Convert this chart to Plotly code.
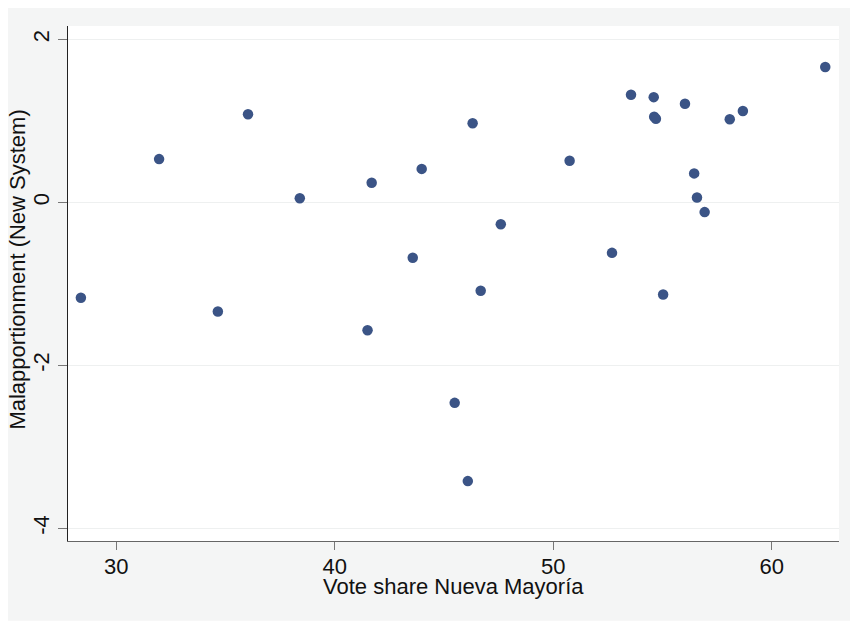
import plotly.graph_objects as go

vote_share = [28.38, 31.96, 34.65, 36.03, 38.4, 41.5, 41.69, 43.57, 43.98, 45.49,
              46.09, 46.31, 46.68, 47.6, 50.75, 52.69, 53.56, 54.6, 54.62, 54.7,
              55.03, 56.03, 56.45, 56.58, 56.93, 58.08, 58.68, 62.45]
malapportionment = [-1.17, 0.53, -1.34, 1.08, 0.05, -1.57, 0.24, -0.68, 0.41, -2.46,
                    -3.42, 0.97, -1.085, -0.27, 0.51, -0.62, 1.32, 1.29, 1.05, 1.025,
                    -1.13, 1.21, 0.355, 0.06, -0.12, 1.02, 1.12, 1.66]

x_ticks = [30, 40, 50, 60]
y_ticks = [2, 0, -2, -4]
x_title = "Vote share Nueva Mayoría"
y_title = "Malapportionment (New System)"

fig = go.Figure()
fig.add_trace(go.Scatter(
    x=vote_share, y=malapportionment, mode="markers",
    marker=dict(size=10.5, color="#3b5486", line=dict(width=0)),
    showlegend=False, hoverinfo="x+y"))

font = "Liberation Sans, Arial, sans-serif"
fs = 22
fig.update_layout(
    width=858, height=623,
    margin=dict(l=60, r=27, t=18, b=90, autoexpand=False),
    paper_bgcolor="white", plot_bgcolor="white",
    font=dict(family=font, size=fs, color="#111"),
    shapes=[
        dict(type="rect", xref="paper", yref="paper", x0=-0.0778, x1=1.022,
             y0=-0.155, y1=1.035, fillcolor="#f4f5f5", line=dict(width=0), layer="below"),
        dict(type="rect", xref="paper", yref="paper", x0=0, x1=1, y0=0, y1=1,
             fillcolor="white", line=dict(width=0), layer="below"),
    ],
    annotations=[
        dict(text=x_title, xref="paper", yref="paper", x=0.5, y=-0.0893,
             xanchor="center", yanchor="middle", showarrow=False,
             font=dict(size=fs, color="#111")),
        dict(text=y_title, xref="paper", yref="paper", x=-0.0655, y=0.528,
             xanchor="center", yanchor="middle", showarrow=False, textangle=-90,
             font=dict(size=fs, color="#111")),
    ],
    xaxis=dict(
        automargin=False,
        range=[27.79, 63.08], tickvals=x_ticks, ticktext=[str(v) for v in x_ticks],
        showgrid=False, zeroline=False, showline=True, linecolor="#666", linewidth=1,
        ticks="outside", ticklen=8, tickcolor="#777", tickfont=dict(size=fs, color="#111"),
        ticklabelstandoff=-2,
    ),
    yaxis=dict(
        automargin=False,
        range=[-4.155, 2.163], tickvals=y_ticks, ticktext=[str(v) for v in y_ticks],
        showgrid=True, gridcolor="#eef0f0", gridwidth=1, zeroline=False,
        showline=True, linecolor="#222", linewidth=1,
        ticks="outside", ticklen=9, tickcolor="#777", tickangle=-90,
        tickfont=dict(size=fs, color="#111"),
    ),
)

fig.write_html("out.html")
